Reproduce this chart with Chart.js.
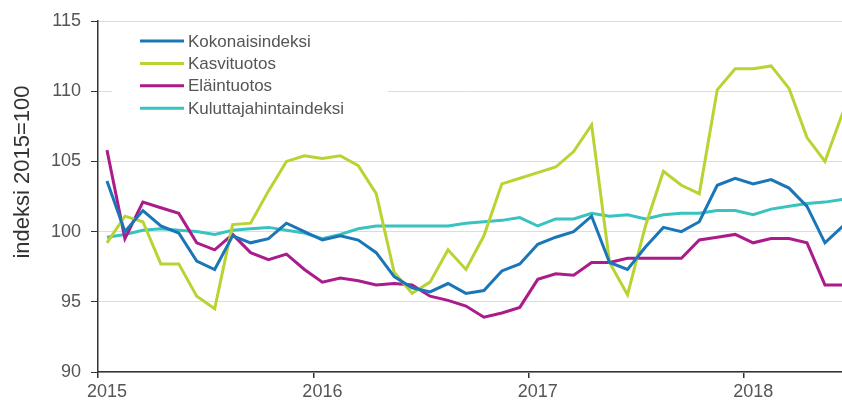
<!DOCTYPE html>
<html>
<head>
<meta charset="utf-8">
<script src="https://cdn.jsdelivr.net/npm/chart.js@4.4.1/dist/chart.umd.min.js"></script>
<style>
  html, body { margin: 0; padding: 0; background: #fff; }
</style>
</head>
<body>
<canvas id="myChart" width="842" height="405"></canvas>
<script>
// Monthly data, Jan 2015 - Jun 2018
const months = [
  '2015-01','2015-02','2015-03','2015-04','2015-05','2015-06','2015-07','2015-08','2015-09','2015-10','2015-11','2015-12',
  '2016-01','2016-02','2016-03','2016-04','2016-05','2016-06','2016-07','2016-08','2016-09','2016-10','2016-11','2016-12',
  '2017-01','2017-02','2017-03','2017-04','2017-05','2017-06','2017-07','2017-08','2017-09','2017-10','2017-11','2017-12',
  '2018-01','2018-02','2018-03','2018-04','2018-05','2018-06'
];
const kokonaisindeksi = [
  103.6, 100.0, 101.5, 100.4, 99.9, 97.9, 97.3, 99.7, 99.2, 99.5, 100.6, 100.0,
  99.4, 99.7, 99.4, 98.5, 96.8, 96.0, 95.7, 96.3, 95.6, 95.8, 97.2, 97.7,
  99.1, 99.6, 100.0, 101.1, 97.8, 97.3, 98.9, 100.3, 100.0, 100.7, 103.3, 103.8,
  103.4, 103.7, 103.1, 101.8, 99.2, 100.4
];
const kasvituotos = [
  99.2, 101.1, 100.7, 97.7, 97.7, 95.4, 94.5, 100.5, 100.6, 102.9, 105.0, 105.4,
  105.2, 105.4, 104.7, 102.7, 97.1, 95.6, 96.4, 98.7, 97.3, 99.7, 103.4, 103.8,
  104.2, 104.6, 105.7, 107.6, 97.8, 95.5, 100.4, 104.3, 103.3, 102.7, 110.1, 111.6,
  111.6, 111.8, 110.2, 106.7, 105.0, 108.5
];
const elaintuotos = [
  105.8, 99.5, 102.1, 101.7, 101.3, 99.2, 98.7, 99.8, 98.5, 98.0, 98.4, 97.3,
  96.4, 96.7, 96.5, 96.2, 96.3, 96.2, 95.4, 95.1, 94.7, 93.9, 94.2, 94.6,
  96.6, 97.0, 96.9, 97.8, 97.8, 98.1, 98.1, 98.1, 98.1, 99.4, 99.6, 99.8,
  99.2, 99.5, 99.5, 99.2, 96.2, 96.2
];
const kuluttajahintaindeksi = [
  99.6, 99.8, 100.1, 100.2, 100.1, 100.0, 99.8, 100.1, 100.2, 100.3, 100.1, 99.9,
  99.5, 99.8, 100.2, 100.4, 100.4, 100.4, 100.4, 100.4, 100.6, 100.7, 100.8, 101.0,
  100.4, 100.9, 100.9, 101.3, 101.1, 101.2, 100.9, 101.2, 101.3, 101.3, 101.5, 101.5,
  101.2, 101.6, 101.8, 102.0, 102.1, 102.3
];
const seriesNames = ['Kokonaisindeksi', 'Kasvituotos', 'Eläintuotos', 'Kuluttajahintaindeksi'];
const seriesColors = ['#1b76b8', '#b8d432', '#ab1b8a', '#38c2c0'];
const yearTicks = [0, 12, 24, 36];
const yearLabels = ['2015', '2016', '2017', '2018'];
const yTitle = 'indeksi 2015=100';

const FONT = "'Liberation Sans', Arial, sans-serif";

// points sit in the middle of each month
function toPoints(values) {
  return values.map((v, i) => ({ x: i + 0.5, y: v }));
}

const allSeries = [kokonaisindeksi, kasvituotos, elaintuotos, kuluttajahintaindeksi];

// legend box drawn inside the plot (covers the grid like the original)
const insideLegend = {
  id: 'insideLegend',
  beforeDatasetsDraw(chart) {
    const ctx = chart.ctx;
    ctx.save();
    ctx.fillStyle = '#fff';
    ctx.fillRect(112, 27, 276, 93);
    ctx.font = '17px ' + FONT;
    ctx.textBaseline = 'middle';
    chart.data.datasets.forEach((ds, i) => {
      const y = 41 + i * 22.4;
      ctx.strokeStyle = ds.borderColor;
      ctx.lineWidth = 3;
      ctx.beginPath();
      ctx.moveTo(140, y);
      ctx.lineTo(184, y);
      ctx.stroke();
      ctx.fillStyle = '#555';
      ctx.fillText(ds.label, 188, y + 1);
    });
    ctx.restore();
  }
};

// rotated y-axis title
const yTitlePlugin = {
  id: 'yTitlePlugin',
  afterDraw(chart) {
    const ctx = chart.ctx;
    ctx.save();
    ctx.translate(23, 172);
    ctx.rotate(-Math.PI / 2);
    ctx.font = '22px ' + FONT;
    ctx.fillStyle = '#333';
    ctx.textAlign = 'center';
    ctx.textBaseline = 'middle';
    ctx.fillText(yTitle, 0, 0);
    ctx.restore();
  }
};

const ctx = document.getElementById('myChart').getContext('2d');
const myChart = new Chart(ctx, {
  type: 'line',
  data: {
    labels: months,
    datasets: allSeries.map((s, i) => ({
      label: seriesNames[i],
      data: toPoints(s),
      borderColor: seriesColors[i],
      backgroundColor: seriesColors[i],
      borderWidth: 3,
      pointRadius: 0,
      tension: 0,
      fill: false
    }))
  },
  options: {
    responsive: false,
    animation: false,
    layout: { padding: { top: 21, right: 0, bottom: 0, left: 0 } },
    plugins: {
      legend: { display: false },
      tooltip: { enabled: false }
    },
    scales: {
      x: {
        type: 'linear',
        min: 0,
        max: 41.45,
        afterBuildTicks: s => { s.ticks = yearTicks.map(v => ({ value: v })); },
        afterFit: s => { s.height = 33; },
        grid: { drawOnChartArea: false, tickLength: 6, tickColor: '#333', lineWidth: 1.5 },
        border: { color: '#333', width: 1.5 },
        ticks: {
          labelOffset: 9,
          padding: 3,
          color: '#555',
          maxRotation: 0,
          autoSkip: false,
          font: { size: 18, family: FONT },
          callback: (v, i) => yearLabels[i]
        }
      },
      y: {
        min: 90,
        max: 115,
        afterFit: s => { s.width = 98; },
        grid: { color: '#dcdcdc', tickColor: '#333', tickLength: 7, lineWidth: 1 },
        border: { color: '#333', width: 1.5 },
        ticks: {
          stepSize: 5,
          padding: 10,
          color: '#555',
          font: { size: 18, family: FONT }
        }
      }
    }
  },
  plugins: [insideLegend, yTitlePlugin]
});
</script>
</body>
</html>
